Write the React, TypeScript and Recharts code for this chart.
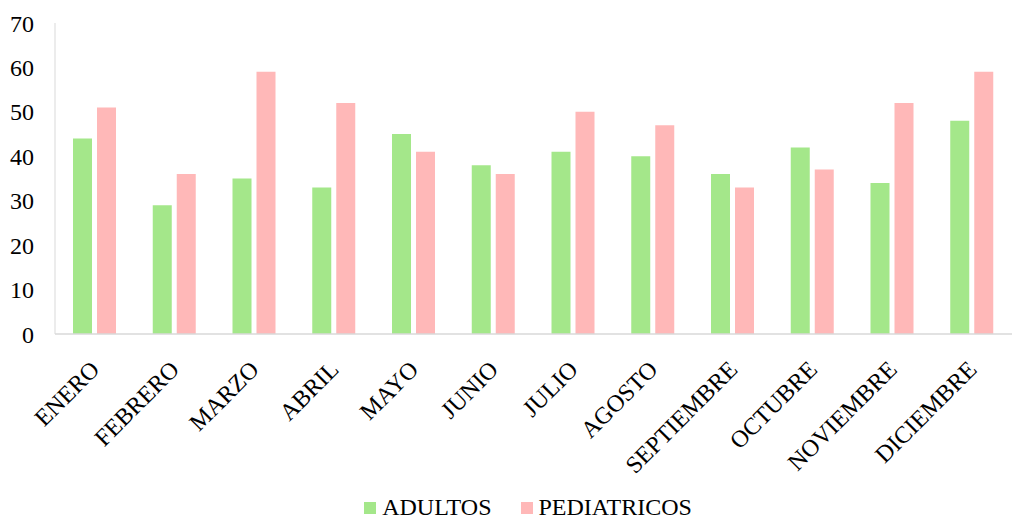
import { BarChart, Bar, XAxis, YAxis, Legend } from "recharts";

const months = [
  "ENERO",
  "FEBRERO",
  "MARZO",
  "ABRIL",
  "MAYO",
  "JUNIO",
  "JULIO",
  "AGOSTO",
  "SEPTIEMBRE",
  "OCTUBRE",
  "NOVIEMBRE",
  "DICIEMBRE",
];
const adultos = [44, 29, 35, 33, 45, 38, 41, 40, 36, 42, 34, 48];
const pediatricos = [51, 36, 59, 52, 41, 36, 50, 47, 33, 37, 52, 59];
const yTicks = [0, 10, 20, 30, 40, 50, 60, 70];

const GREEN = "#A4E78A";
const PINK = "#FFB8B8";
const AXIS = "#D9D9D9";
const FONT = "'Liberation Serif', 'Times New Roman', serif";
const FONT_SIZE = 24;

const data = months.map((mes, i) => ({
  mes,
  adultos: adultos[i],
  pediatricos: pediatricos[i],
}));

function MonthTick({ x, y, payload }: any) {
  const ax = x + 6;
  const ay = y + 29;
  return (
    <text
      x={ax}
      y={ay}
      transform={`rotate(-45, ${ax}, ${ay})`}
      textAnchor="end"
      fontFamily={FONT}
      fontSize={FONT_SIZE}
      fill="#000"
    >
      {payload.value}
    </text>
  );
}

function LegendBox() {
  const items = [
    { label: "ADULTOS", color: GREEN },
    { label: "PEDIATRICOS", color: PINK },
  ];
  return (
    <div
      style={{
        height: 30,
        paddingLeft: 44,
        display: "flex",
        justifyContent: "center",
        alignItems: "flex-end",
        fontFamily: FONT,
        fontSize: FONT_SIZE,
        lineHeight: "25px",
        color: "#000",
      }}
    >
      {items.map((it, i) => (
        <div
          key={it.label}
          style={{ display: "flex", alignItems: "center", marginLeft: i ? 29 : 0 }}
        >
          <span
            style={{
              width: 12,
              height: 12,
              background: it.color,
              marginRight: 6,
              display: "inline-block",
            }}
          />
          <span>{it.label}</span>
        </div>
      ))}
    </div>
  );
}

export default function App() {
  return (
    <div style={{ position: "absolute", left: 0, top: 0, background: "#fff" }}>
      <BarChart
        width={1015}
        height={520}
        data={data}
        margin={{ top: 23, right: 3, left: 0, bottom: 0 }}
        barSize={19}
        barGap={5}
      >
        <XAxis
          dataKey="mes"
          interval={0}
          height={156}
          tickLine={false}
          axisLine={{ stroke: AXIS, strokeWidth: 1.5 }}
          tick={<MonthTick />}
        />
        <YAxis
          width={55}
          domain={[0, 70]}
          ticks={yTicks}
          interval={0}
          tickLine={false}
          tickSize={0}
          tickMargin={21}
          axisLine={{ stroke: AXIS, strokeWidth: 1 }}
          tick={{ fontFamily: FONT, fontSize: FONT_SIZE, fill: "#000" }}
        />
        <Legend verticalAlign="bottom" content={<LegendBox />} />
        <Bar dataKey="adultos" name="ADULTOS" fill={GREEN} isAnimationActive={false} />
        <Bar dataKey="pediatricos" name="PEDIATRICOS" fill={PINK} isAnimationActive={false} />
      </BarChart>
    </div>
  );
}
